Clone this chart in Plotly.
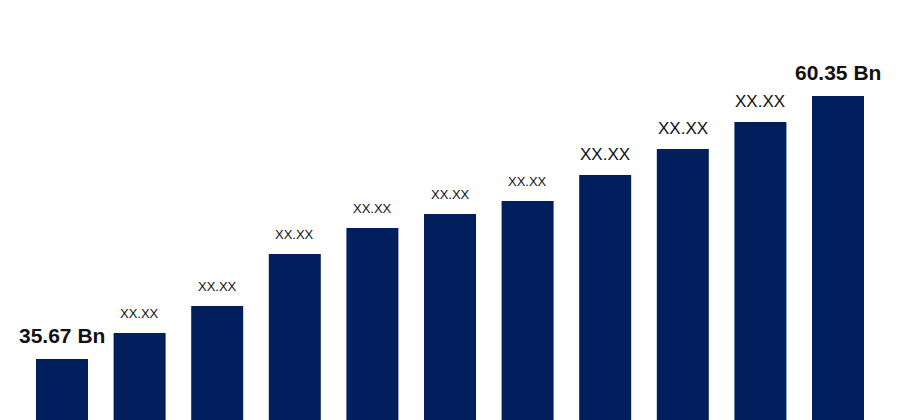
import plotly.graph_objects as go

# bar categories (years are not shown in the picture) and values
categories = [f"Y{i}" for i in range(1, 12)]
values = [35.67, 38.11, 40.64, 45.52, 47.96, 49.28, 50.50, 52.94, 55.38, 57.91, 60.35]
labels = ["35.67 Bn", "XX.XX", "XX.XX", "XX.XX", "XX.XX", "XX.XX", "XX.XX",
          "XX.XX", "XX.XX", "XX.XX", "60.35 Bn"]

BAR_COLOR = "#001F5C"
FONT = "Liberation Sans, Arial, sans-serif"

fig = go.Figure()
fig.add_trace(
    go.Bar(
        x=categories,
        y=values,
        marker=dict(color=BAR_COLOR, line=dict(width=0)),
        width=0.67,
        hoverinfo="skip",
    )
)

for i, (cat, val, lab) in enumerate(zip(categories, values, labels)):
    if i in (0, len(values) - 1):
        font = dict(family=FONT, size=21, color="#111111", weight="bold")
        shift = 10
    elif i >= 7:
        font = dict(family=FONT, size=17, color="#111111")
        shift = 9
    else:
        font = dict(family=FONT, size=13, color="#111111")
        shift = 10
    fig.add_annotation(
        x=cat,
        y=val,
        text=lab,
        showarrow=False,
        yanchor="bottom",
        yshift=shift,
        font=font,
    )

# page body has an 8px margin, so the axis ranges are offset to compensate
fig.update_layout(
    width=900,
    height=420,
    margin=dict(l=0, r=0, t=0, b=0),
    paper_bgcolor="white",
    plot_bgcolor="white",
    showlegend=False,
    xaxis=dict(visible=False, type="category", range=[-0.696, 10.902]),
    yaxis=dict(visible=False, range=[29.2, 68.61]),
)

fig.write_html("out.html")
